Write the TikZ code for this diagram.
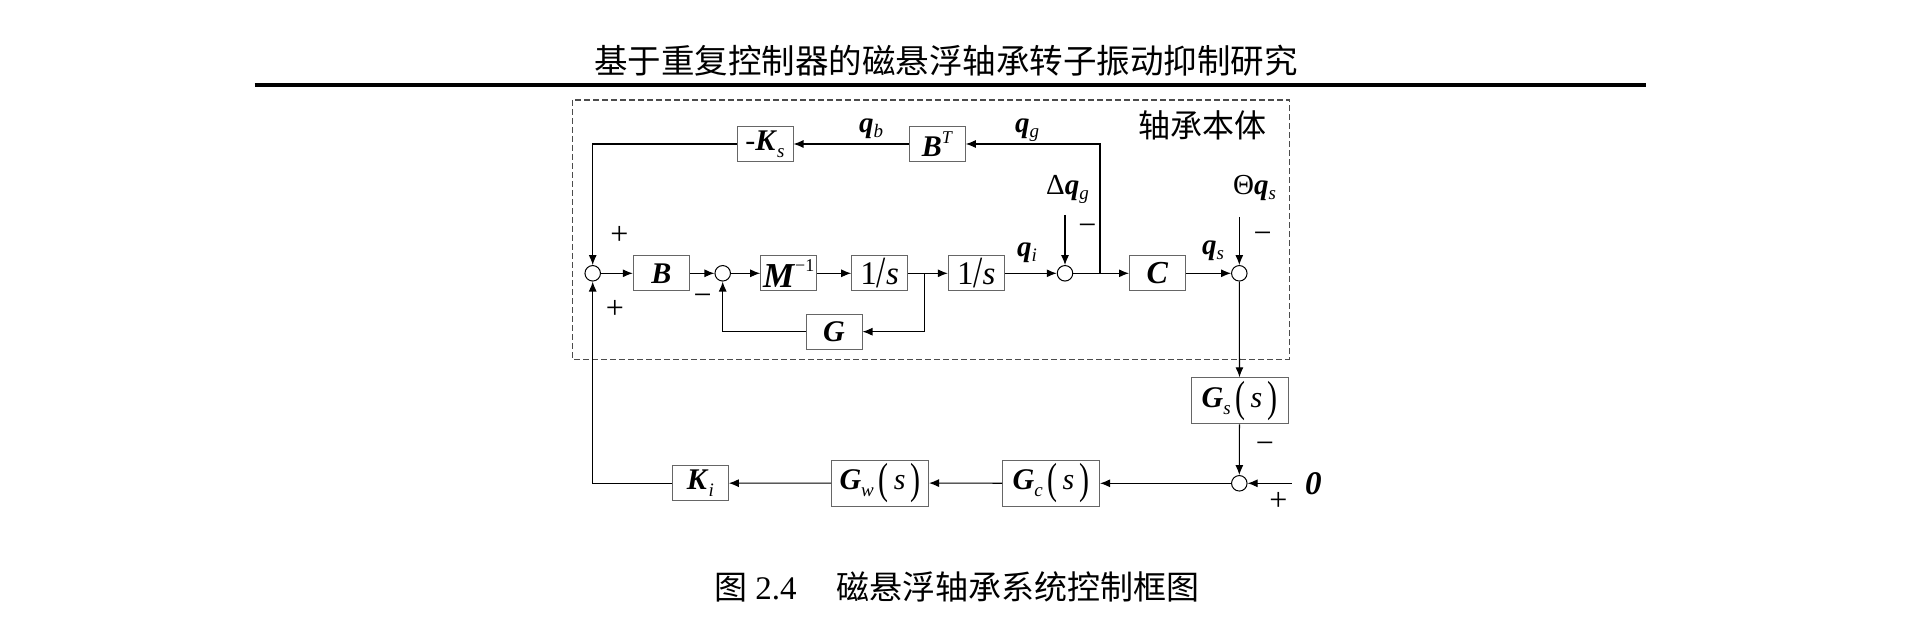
\documentclass[tikz,border=0pt]{standalone}
\usepackage{fontspec}
\setmainfont{Liberation Serif}
\newfontfamily\cjk{Noto Sans CJK SC}
\usetikzlibrary{arrows.meta}
\newcommand{\vb}[1]{\textbf{\textit{#1}}}
\newcommand{\lowidx}[2][6pt]{\raisebox{-#1}{\fontsize{19}{19}\selectfont\textit{#2}}}
\newcommand{\upidx}[2][13pt]{\raisebox{#1}{\fontsize{18}{18}\selectfont #2}}
\newcommand{\tallpar}[1]{\raisebox{-4pt}{\scalebox{1}[1.45]{#1}}}
\newcommand{\tallslash}{\raisebox{-3pt}{\scalebox{1}[1.35]{/}}}
\tikzset{
  block/.style={draw=black!60, line width=1pt, minimum width=56pt,
                minimum height=35pt, inner sep=0pt,
                font=\fontsize{30}{30}\selectfont},
  bigblock/.style={block, minimum width=97pt, minimum height=46pt},
  sumnode/.style={circle, draw, line width=1pt, minimum size=15.5pt,
                  inner sep=0pt},
  signal/.style={-{Latex[length=10pt, width=8pt]}, line width=1.1pt},
  sign/.style={inner sep=0pt, font=\fontsize{32}{32}\selectfont},
  varlabel/.style={inner sep=0pt, anchor=base west,
                   font=\fontsize{29}{29}\selectfont},
  bodyframe/.style={draw=black!70, line width=1.1pt,
                    dash pattern=on 6pt off 3pt},
}

\begin{document}
\begin{tikzpicture}[x=1pt, y=-1pt]
  \useasboundingbox (0,0) rectangle (1919,628);

  % --- Header ---
  \node[inner sep=0pt, font=\cjk\fontsize{33.5}{33.5}\selectfont]
    (title) at (946,61) {基于重复控制器的磁悬浮轴承转子振动抑制研究};
  \draw[line width=4pt] (254.6,85.5) -- (1646,85.5);

  % --- Bearing body ---
  \draw[bodyframe] (572.7,100) rectangle (1289.3,359.3);
  \node[inner sep=0pt, font=\cjk\fontsize{32}{32}\selectfont]
    (body) at (1202,125) {轴承本体};

  \node[sumnode] (s1) at (592.7,273.3) {};
  \node[block] (b) at (661.3,273.3) {\vb{B}};
  \node[sumnode] (s2) at (722.7,273.3) {};
  \node[block] (minv) at (788.7,273.3)
    {\fontsize{35}{35}\selectfont\vb{M}\upidx[16pt]{−1}};
  \node[block, font=\fontsize{33}{33}\selectfont] (int1) at (879.7,273.3)
    {1\tallslash\textit{s}};
  \node[block, font=\fontsize{33}{33}\selectfont] (int2) at (976.3,273.3)
    {1\tallslash\textit{s}};
  \node[block] (g) at (834,331.7) {\vb{G}};
  \node[sumnode] (s3) at (1065,273.3) {};
  \node[block, font=\fontsize{32}{32}\selectfont] (c) at (1157.5,273.3)
    {\vb{C}};
  \node[sumnode] (s4) at (1239.3,273.3) {};

  \node[block] (bt) at (937.3,144) {\vb{B}\upidx{\textit{T}}};
  \node[block] (ks) at (765,144) {-\vb{K}\lowidx[7pt]{s}};

  % --- Controller loop ---
  \node[bigblock] (gs) at (1239.5,400.8)
    {\vb{G}\lowidx[7pt]{s}\,\tallpar{(}\,\textit{s}\,\tallpar{)}};
  \node[sumnode] (s5) at (1239.3,483.3) {};
  \node[bigblock] (gc) at (1051,483.3)
    {\vb{G}\lowidx[7pt]{c}\,\tallpar{(}\,\textit{s}\,\tallpar{)}};
  \node[bigblock] (gw) at (880,483)
    {\vb{G}\lowidx[7pt]{w}\,\tallpar{(}\,\textit{s}\,\tallpar{)}};
  \node[block] (ki) at (700.3,483.2) {\vb{K}\lowidx[7pt]{i}};

  % --- Labels ---
  \node[varlabel] (qb) at (859,133) {\vb{q}\lowidx[5pt]{b}};
  \node[varlabel] (qg) at (1015,133) {\vb{q}\lowidx[5pt]{g}};
  \node[varlabel] (dqg) at (1046,195) {Δ\vb{q}\lowidx[5pt]{g}};
  \node[varlabel] (thqs) at (1233,195) {Θ\vb{q}\lowidx[5pt]{s}};
  \node[varlabel] (qi) at (1017,257) {\vb{q}\lowidx[5pt]{i}};
  \node[varlabel] (qs) at (1202,255) {\vb{q}\lowidx[5pt]{s}};
  \node[sign, font=\fontsize{33}{33}\selectfont\bfseries\itshape]
    (zero) at (1313.3,483.3) {0};

  \node[sign] (p1) at (619.3,235.7) {+};
  \node[sign] (p2) at (615,309.3) {+};
  \node[sign] (m2) at (702.7,299.3) {−};
  \node[sign] (m3) at (1087.3,230) {−};
  \node[sign] (m4) at (1262.7,237.7) {−};
  \node[sign] (m5) at (1265,447.7) {−};
  \node[sign] (p5) at (1278.3,501.7) {+};

  % --- Signals ---
  \coordinate (br1) at (924.3,273.3);
  \coordinate (br2) at (1100,273.3);
  \coordinate (dqin) at (1065,215);
  \coordinate (thin) at (1239.3,217);
  \coordinate (zin) at (1291.7,483.3);

  \draw[signal] (s1) -- (b);
  \draw[signal] (b) -- (s2);
  \draw[signal] (s2) -- (minv);
  \draw[signal] (minv) -- (int1);
  \draw[signal] (int1) -- (int2);
  \draw[signal] (int2) -- (s3);
  \draw[signal] (s3) -- (c);
  \draw[signal] (c) -- (s4);
  \draw[signal] (br1) |- (g);
  \draw[signal] (g) -| (s2);
  \draw[signal] (br2) |- (bt);
  \draw[signal] (bt) -- (ks);
  \draw[signal] (ks) -| (s1);
  \draw[signal] (dqin) -- (s3);
  \draw[signal] (thin) -- (s4);
  \draw[signal] (s4) -- (gs);
  \draw[signal] (gs) -- (s5);
  \draw[signal] (zin) -- (s5);
  \draw[signal] (s5) -- (gc);
  \draw[signal] (gc) -- (gw);
  \draw[signal] (gw) -- (ki);
  \draw[signal] (ki) -| (s1);

  % --- Caption ---
  \node[anchor=west, inner sep=0pt, font=\fontsize{33}{33}\selectfont]
    (caption) at (714,587)
    {{\cjk 图} 2.4\hspace{40pt}{\cjk 磁悬浮轴承系统控制框图}};
\end{tikzpicture}
\end{document}
